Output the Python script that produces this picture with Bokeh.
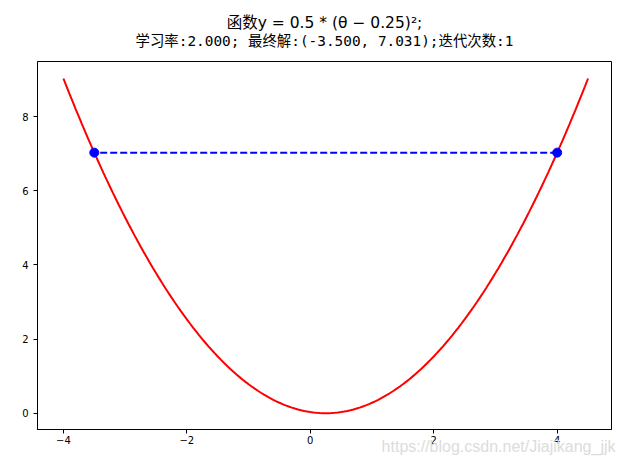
import numpy as np
from bokeh.plotting import figure
from bokeh.models import Title, FixedTicker, Range1d
from bokeh.embed import file_html
from bokeh.resources import INLINE

# function y = 0.5*(theta-0.25)^2 drawn over [-4, 4.5]
curve_x = np.arange(-4.0, 4.5001, 0.05)
curve_y = 0.5 * (curve_x - 0.25) ** 2

# gradient-descent path
path_x = [4.0, -3.5]
path_y = [7.031, 7.031]

x_ticks = [-4, -2, 0, 2, 4]
y_ticks = [0, 2, 4, 6, 8]

title1 = "函数y = 0.5 * (θ − 0.25)²;"
title2 = "学习率:2.000; 最终解:(-3.500, 7.031);迭代次数:1"
watermark = "https://blog.csdn.net/Jiajikang_jjk"

p = figure(width=616, height=456, output_backend="svg", toolbar_location=None,
           x_range=Range1d(-4.42, 4.88), y_range=Range1d(-0.44, 9.49),
           min_border_left=37, min_border_right=5, min_border_bottom=27, min_border_top=61)
p.title = None
p.grid.visible = False
p.outline_line_color = "black"
p.outline_line_width = 1
p.background_fill_color = "white"
p.border_fill_color = "white"

t2 = Title(text=title2, align="center", vertical_align="top",
           text_font="DejaVu Sans Mono, Noto Sans CJK SC", text_font_size="14.4px",
           text_font_style="normal", text_color="black", standoff=21)
t1 = Title(text=title1, align="center", vertical_align="bottom",
           text_font="DejaVu Sans, Noto Sans CJK SC", text_font_size="15.5px",
           text_font_style="normal", text_color="black", standoff=-18)
p.add_layout(t2, "above")
p.add_layout(t1, "above")

for ax, ticks in ((p.xaxis, x_ticks), (p.yaxis, y_ticks)):
    ax.ticker = FixedTicker(ticks=ticks)
    ax.minor_tick_line_color = None
    ax.major_tick_in = 0
    ax.major_tick_out = 4
    ax.major_label_text_font = "DejaVu Sans"
    ax.major_label_text_font_size = "10px"
    ax.major_label_text_color = "black"
    ax.axis_line_color = "black"
    ax.major_tick_line_color = "black"
    ax.axis_label = None
p.xaxis.major_label_standoff = 2

# watermark: a light title below, pulled up into the tick-label row
wm = Title(text=watermark, align="right", vertical_align="top", offset=-4, standoff=-18,
           text_font="Liberation Sans", text_font_size="16px", text_font_style="normal",
           text_color="#dcdcdc")
p.add_layout(wm, "below")

p.line(curve_x, curve_y, line_color="#ff0000", line_width=2)
p.line(path_x, path_y, line_color="#0000ff", line_width=2, line_dash="7 3")
p.scatter(path_x, path_y, size=9, fill_color="#0000ff", line_color="#0000ff")

open("out.html", "w").write(file_html(p, INLINE))
